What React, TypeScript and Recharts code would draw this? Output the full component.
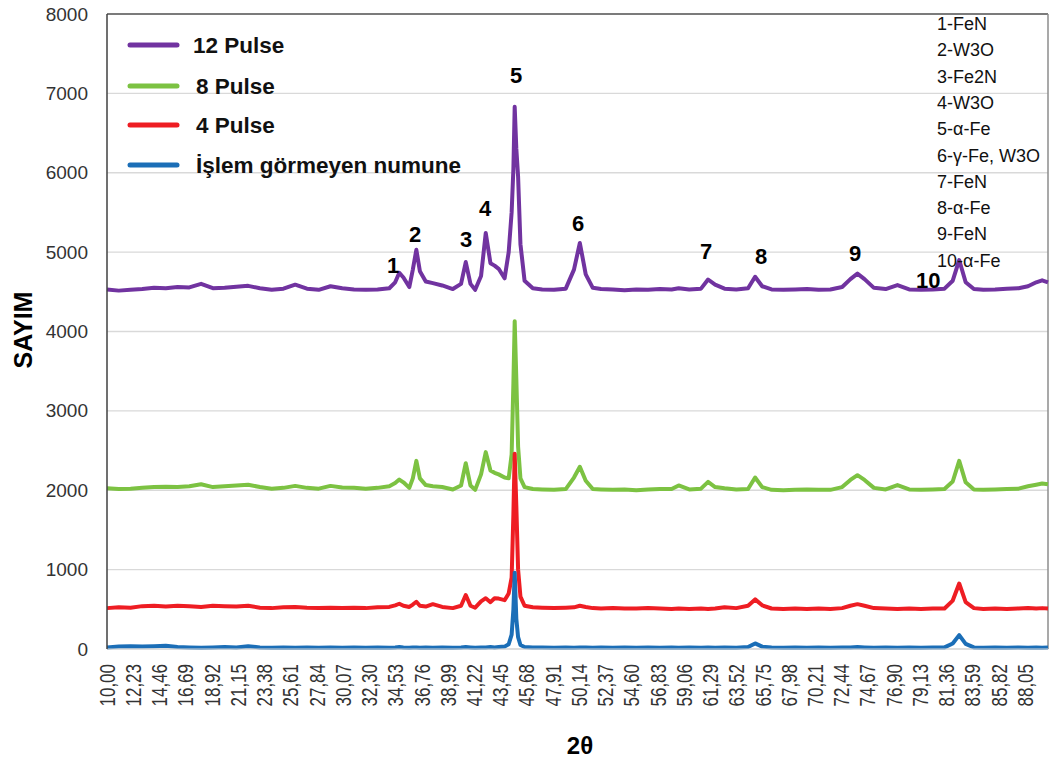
import React from 'react';
import { LineChart, Line, XAxis, YAxis, CartesianGrid, ReferenceLine, ReferenceDot } from 'recharts';

// 2θ positions (denser around the peaks)
const twoTheta = [
  10, 11, 12, 13, 14, 15, 16, 17, 18, 19,
  20, 21, 22, 23, 24, 25, 26, 27, 28, 29,
  30, 31, 32, 33, 34, 34.5, 34.85, 35.2, 35.7, 36.0,
  36.3, 36.6, 37.1, 37.7, 38.5, 39.4, 40.1, 40.5, 40.9, 41.3,
  41.8, 42.2, 42.6, 42.95, 43.3, 43.8, 44.15, 44.4, 44.55, 44.66,
  44.8, 44.95, 45.15, 45.5, 46.2, 47, 48, 49, 49.7, 50.2,
  50.7, 51.3, 52, 53, 54, 55, 56, 57, 58, 58.6,
  59.5, 60.5, 61.1, 61.7, 62.5, 63.5, 64.5, 65.1, 65.7, 66.5,
  67.5, 68.5, 69.5, 70.5, 71.5, 72.5, 73.2, 73.8, 74.4, 75.2,
  76.2, 77.2, 78.2, 79.2, 80.2, 81.2, 81.9, 82.45, 83.0, 83.7,
  84.5, 85.5, 86.5, 87.5, 88.3, 89, 89.5, 90,
];

const pulse12 = [
  4530, 4515, 4525, 4535, 4550, 4545, 4560, 4555, 4600, 4545,
  4550, 4565, 4575, 4545, 4525, 4540, 4590, 4540, 4525, 4570,
  4545, 4530, 4525, 4530, 4545, 4620, 4740, 4680, 4560, 4780,
  5030, 4760, 4630, 4610, 4580, 4535, 4600, 4875, 4600, 4525,
  4700, 5240, 4860, 4830, 4790, 4670, 5000, 5500, 6050, 6830,
  6300, 5950, 5100, 4640, 4545, 4530, 4525, 4540, 4780, 5115,
  4720, 4550, 4535, 4530, 4520, 4530, 4525, 4535, 4530, 4545,
  4530, 4540, 4655, 4590, 4540, 4530, 4545, 4690, 4570, 4530,
  4525, 4530, 4535, 4525, 4530, 4560, 4660, 4730, 4660, 4550,
  4535, 4585, 4530, 4525, 4530, 4540, 4640, 4900, 4620, 4535,
  4525, 4530, 4540, 4545, 4570, 4620, 4645, 4620,
];

const pulse8 = [
  2025, 2015, 2020, 2030, 2040, 2045, 2040, 2050, 2075, 2040,
  2050, 2060, 2070, 2040, 2020, 2030, 2055, 2030, 2020, 2055,
  2035, 2030, 2020, 2030, 2050, 2090, 2135, 2100, 2030, 2150,
  2370, 2150, 2065, 2050, 2040, 2010, 2060, 2340, 2060, 2005,
  2200, 2480, 2250, 2220, 2200, 2160, 2150, 2450, 3350, 4130,
  3400, 2550, 2150, 2040, 2015, 2010, 2005, 2015, 2160, 2295,
  2120, 2015, 2010, 2005, 2010, 2000, 2010, 2015, 2015, 2060,
  2010, 2020, 2105, 2040, 2025, 2010, 2015, 2160, 2040, 2005,
  2000, 2005, 2010, 2005, 2005, 2040, 2130, 2190, 2130, 2030,
  2010, 2065, 2010, 2005, 2010, 2015, 2110, 2370, 2100, 2010,
  2005, 2010, 2015, 2020, 2050, 2070, 2085, 2075,
];

const pulse4 = [
  515, 525, 520, 540, 545, 535, 545, 540, 530, 545,
  540, 535, 545, 520, 515, 525, 530, 520, 515, 520,
  515, 520, 515, 525, 530, 550, 570, 545, 530, 560,
  595, 545, 535, 565, 530, 515, 545, 680, 545, 520,
  600, 640, 590, 640, 635, 615, 700, 900, 1700, 2460,
  1800, 1000, 660, 545, 525, 520, 515, 520, 525, 545,
  530, 515, 510, 515, 510, 510, 515, 510, 505, 510,
  505, 510, 505, 510, 525, 515, 545, 625, 550, 510,
  505, 510, 505, 510, 505, 515, 545, 565, 545, 515,
  510, 505, 510, 505, 510, 510, 610, 825, 590, 515,
  505, 510, 505, 510, 515, 510, 515, 510,
];

const untreated = [
  20, 30, 35, 30, 35, 40, 25, 20, 15, 20,
  25, 20, 35, 20, 15, 20, 15, 20, 15, 20,
  15, 20, 15, 20, 15, 20, 25, 20, 15, 20,
  20, 15, 20, 15, 20, 15, 20, 25, 20, 15,
  20, 20, 25, 20, 25, 30, 60, 180, 500, 960,
  380, 150, 50, 25, 20, 20, 15, 20, 15, 20,
  20, 15, 20, 15, 20, 15, 20, 15, 20, 15,
  20, 15, 20, 15, 20, 15, 25, 70, 30, 20,
  15, 20, 15, 20, 15, 20, 20, 25, 20, 15,
  20, 15, 20, 15, 20, 20, 70, 175, 65, 20,
  15, 20, 15, 20, 15, 20, 15, 20,
];

const xTicks = [
  10, 12.23, 14.46, 16.69, 18.92, 21.15, 23.38, 25.61, 27.84, 30.07, 32.3, 34.53,
  36.76, 38.99, 41.22, 43.45, 45.68, 47.91, 50.14, 52.37, 54.6, 56.83, 59.06, 61.29,
  63.52, 65.75, 67.98, 70.21, 72.44, 74.67, 76.9, 79.13, 81.36, 83.59, 85.82, 88.05,
];
const yTicks = [0, 1000, 2000, 3000, 4000, 5000, 6000, 7000, 8000];

const seriesNames = ['12 Pulse', '8 Pulse', '4 Pulse', 'İşlem görmeyen numune'];
const seriesKeys = ['p12', 'p8', 'p4', 'p0'];
const seriesColors = ['#7133A0', '#7CC242', '#EE1D23', '#1B6EB7'];

// peak numbers and where they sit (2θ, count)
const peakNums = ['1', '2', '3', '4', '5', '6', '7', '8', '9', '10'];
const peakAt = [34.32, 36.19, 40.53, 42.14, 44.78, 50.05, 60.94, 65.61, 73.6, 79.81];
const peakCount = [4838, 5228, 5165, 5556, 7231, 5367, 5014, 4951, 4989, 4649];

const phases = ['1-FeN', '2-W3O', '3-Fe2N', '4-W3O', '5-α-Fe', '6-γ-Fe, W3O', '7-FeN', '8-α-Fe', '9-FeN', '10-α-Fe'];

const rows = twoTheta.map((x, i) => ({
  x,
  p12: pulse12[i],
  p8: pulse8[i],
  p4: pulse4[i],
  p0: untreated[i],
}));

const FONT = '"Liberation Sans", Arial, sans-serif';

const XTick = (props: any) => {
  const { x, payload } = props;
  const txt = Number(payload.value).toFixed(2).replace('.', ',');
  return (
    <text
      transform={`translate(${x},664) rotate(-90) scale(1,1.3)`}
      textAnchor="end"
      dy="0.35em"
      fontSize={17}
      fontFamily={FONT}
      fill="#333"
    >
      {txt}
    </text>
  );
};

const YTick = (props: any) => {
  const { y, payload } = props;
  return (
    <text x={88} y={y} textAnchor="end" dominantBaseline="central" fontSize={19} fontFamily={FONT} fill="#333">
      {payload.value}
    </text>
  );
};

const legendY = [45, 86, 125, 165];

export default function App() {
  return (
    <div style={{ position: 'absolute', left: 0, top: 0, width: 1050, height: 769, background: '#fff' }}>
      <LineChart width={1050} height={769} data={rows} margin={{ top: 14, right: 2, left: 0, bottom: 0 }}>
        <CartesianGrid vertical={false} stroke="#d9d9d9" strokeWidth={1.3} />
        <XAxis
          dataKey="x"
          type="number"
          domain={[10, 90]}
          ticks={xTicks}
          interval={0}
          tick={XTick}
          tickLine={false}
          axisLine={{ stroke: '#d9d9d9' }}
          height={120}
        />
        <YAxis
          domain={[0, 8000]}
          ticks={yTicks}
          interval={0}
          tick={YTick}
          tickLine={false}
          axisLine={{ stroke: '#404040', strokeWidth: 1.5 }}
          width={107}
        />
        <ReferenceLine y={8000} stroke="#595959" strokeWidth={1.5} />
        <ReferenceLine x={90} stroke="#8c8c8c" strokeWidth={1.5} />
        {seriesKeys.map((k, i) => (
          <Line
            key={k}
            dataKey={k}
            name={seriesNames[i]}
            type="linear"
            stroke={seriesColors[i]}
            strokeWidth={4}
            strokeLinejoin="round"
            dot={false}
            isAnimationActive={false}
          />
        ))}
        {peakNums.map((n, i) => (
          <ReferenceDot
            key={n}
            x={peakAt[i]}
            y={peakCount[i]}
            r={0}
            fill="none"
            stroke="none"
            label={{ value: n, position: 'center', fill: '#000', fontSize: 22, fontWeight: 700, fontFamily: FONT }}
          />
        ))}
      </LineChart>
      <svg width={1050} height={769} style={{ position: 'absolute', left: 0, top: 0, pointerEvents: 'none' }}>
        {seriesNames.map((name, i) => (
          <g key={name}>
            <line x1={130} x2={177} y1={legendY[i]} y2={legendY[i]} stroke={seriesColors[i]} strokeWidth={5} strokeLinecap="round" />
            <text x={i === 0 ? 193 : 196} y={legendY[i]} dominantBaseline="central" fontSize={22.5} fontWeight={700} fontFamily={FONT} fill="#111">
              {name}
            </text>
          </g>
        ))}
        {phases.map((p, i) => (
          <text key={p + i} x={937} y={24 + i * 26.3} dominantBaseline="central" fontSize={18} fontFamily={FONT} fill="#111">
            {p}
          </text>
        ))}
        <text transform="translate(23,330) rotate(-90)" textAnchor="middle" dominantBaseline="central" fontSize={25} fontWeight={700} fontFamily={FONT} fill="#000">
          SAYIM
        </text>
        <text x={580} y={745} textAnchor="middle" dominantBaseline="central" fontSize={24} fontWeight={700} fontFamily={FONT} fill="#000">
          2θ
        </text>
      </svg>
    </div>
  );
}
